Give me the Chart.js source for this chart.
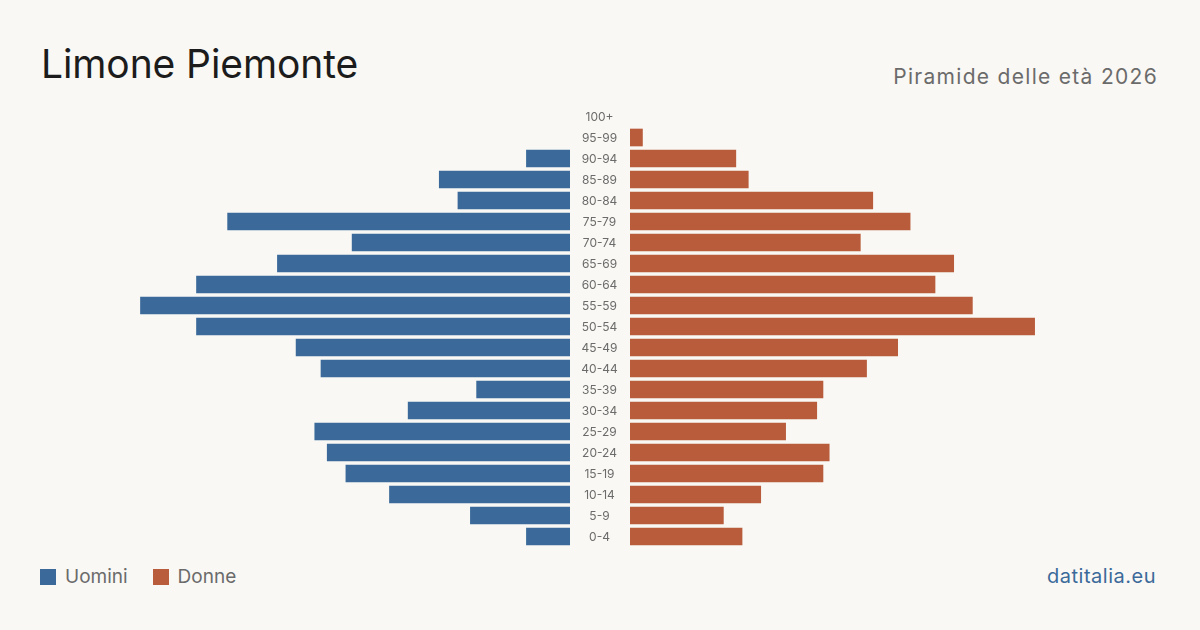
<!DOCTYPE html>
<html>
<head>
<meta charset="utf-8">
<script src="https://cdn.jsdelivr.net/npm/chart.js@4/dist/chart.umd.min.js"></script>
<style>
  html, body { margin:0; padding:0; background:#f9f8f4; }
  body { width:1200px; height:630px; position:relative; overflow:hidden; font-family: Inter, "Noto Sans", sans-serif; }
  #title { position:absolute; left:41px; top:44px; font-size:39px; color:#1c1c1c; line-height:1; letter-spacing:-0.1px; }
  #subtitle { position:absolute; right:42px; top:66px; font-size:21px; color:#6b6b6b; line-height:1; letter-spacing:1.3px; }
  #legend { position:absolute; left:40px; top:567px; font-size:19px; color:#6b6b6b; line-height:20px; display:flex; align-items:center; }
  #legend .sw { width:16px; height:16px; display:inline-block; margin-right:9px; }
  #legend .it { display:flex; align-items:center; margin-right:25px; }
  #source { position:absolute; right:44px; top:566px; font-size:20px; color:#3b6a9a; line-height:20px; letter-spacing:0.5px; }
  .wrap { position:absolute; top:106px; height:441px; }
</style>
</head>
<body>
<div id="title">Limone Piemonte</div>
<div id="subtitle">Piramide delle età 2026</div>
<div class="wrap" style="left:72px;width:558px;"><canvas id="left" width="558" height="441"></canvas></div>
<div class="wrap" style="left:630px;width:498px;"><canvas id="right" width="498" height="441"></canvas></div>
<div id="legend">
  <span class="it"><span class="sw" style="background:#3b6a9a"></span>Uomini</span>
  <span class="it"><span class="sw" style="background:#b85c3b"></span>Donne</span>
</div>
<div id="source">datitalia.eu</div>
<script>
const ageGroups = ['100+','95-99','90-94','85-89','80-84','75-79','70-74','65-69','60-64','55-59','50-54','45-49','40-44','35-39','30-34','25-29','20-24','15-19','10-14','5-9','0-4'];
const men   = [0, 0, 7, 21, 18, 55, 35, 47, 60, 69, 60, 44, 40, 15, 26, 41, 39, 36, 29, 16, 7];
const women = [0, 2, 17, 19, 39, 45, 37, 52, 49, 55, 65, 43, 38, 31, 30, 25, 32, 31, 21, 15, 18];
const axisMax = 80;

const blue = '#3b6a9a', orange = '#b85c3b';

const centerLabels = {
  id: 'centerLabels',
  afterDraw(chart) {
    const ctx = chart.ctx, y = chart.scales.y, area = chart.chartArea;
    ctx.save();
    ctx.font = '12px Inter, "Noto Sans", sans-serif';
    ctx.fillStyle = '#6b6b6b';
    ctx.textAlign = 'center';
    ctx.textBaseline = 'middle';
    chart.data.labels.forEach((l, i) => {
      ctx.fillText(l, area.right + 29.5, y.getPixelForValue(i) + 0.5);
    });
    ctx.restore();
  }
};

function makeChart(id, data, color, reverse) {
  return new Chart(document.getElementById(id), {
    type: 'bar',
    data: { labels: ageGroups, datasets: [{ data: data.map(v => v === 0 ? null : v), backgroundColor: color, barThickness: 17, borderWidth: 0 }] },
    options: {
      indexAxis: 'y',
      responsive: false,
      animation: false,
      layout: { padding: 0 },
      plugins: { legend: { display: false }, tooltip: { enabled: false } },
      scales: {
        x: { min: 0, max: axisMax, reverse: reverse, display: false },
        y: reverse ? {
          position: 'right',
          grid: { display: false, drawTicks: false },
          border: { display: false },
          ticks: { display: false },
          afterFit(s) { s.width = 60; }
        } : { display: false }
      }
    },
    plugins: reverse ? [centerLabels] : []
  });
}
makeChart('left', men, blue, true);
makeChart('right', women, orange, false);
</script>
</body>
</html>
